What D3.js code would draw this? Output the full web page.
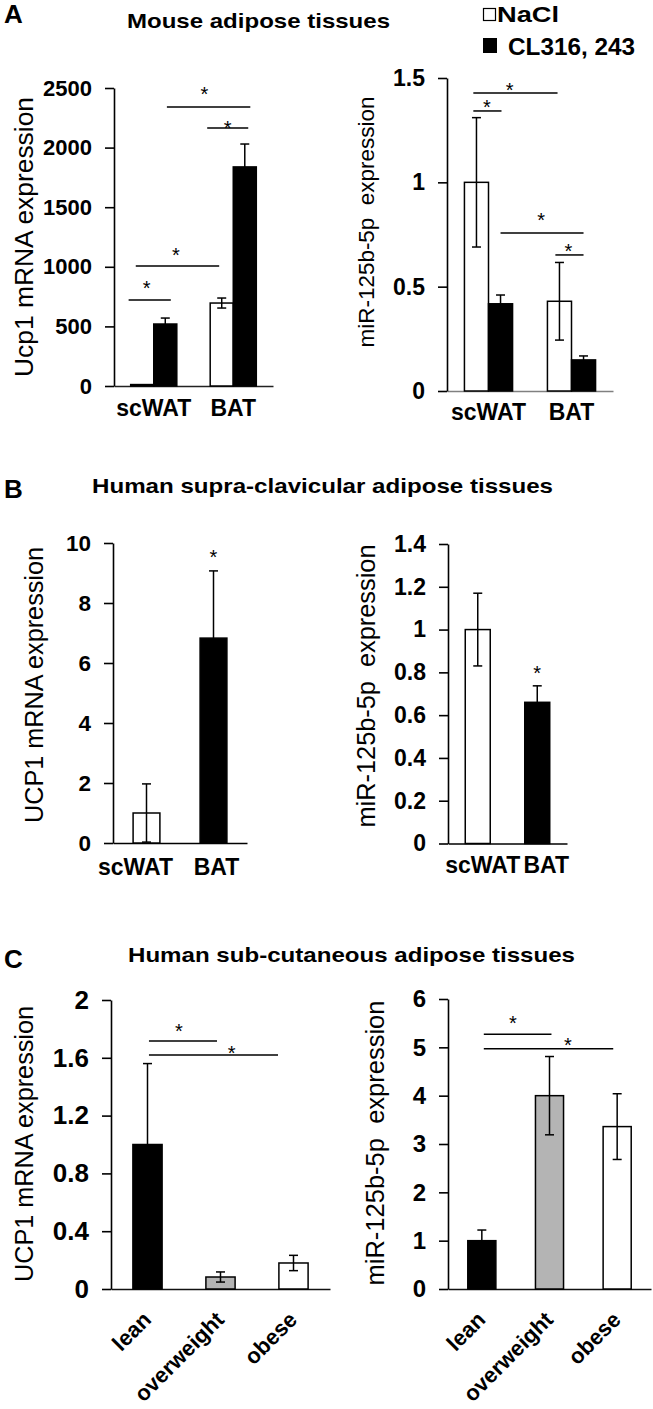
<!DOCTYPE html>
<html>
<head>
<meta charset="utf-8">
<script src="https://cdn.jsdelivr.net/npm/d3@7"></script>
<style>
  body { margin: 0; background: #fff; }
  svg { display: block; }
  svg text { font-family: "Liberation Sans", Arial, sans-serif; fill: #000; }
</style>
</head>
<body>
<div id="container"></div>
<script>
/* DATA */
// A. Mouse adipose tissues (two series per tissue)
const mouseGroups = ["scWAT", "BAT"];
const mouseSeries = ["NaCl", "CL316, 243"];
const mouseUcp1 = [[12, 520], [696, 1838]];
const mouseUcp1Err = [[0, 50], [42, 192]];
const mouseUcp1Ticks = [0, 500, 1000, 1500, 2000, 2500];
const mouseMir = [[1.0, 0.418], [0.43, 0.149]];
const mouseMirErr = [[0.31, 0.042], [0.186, 0.019]];
const mouseMirTicks = [0, 0.5, 1, 1.5];

// B. Human supra-clavicular adipose tissues
const supraGroups = ["scWAT", "BAT"];
const supraUcp1 = [[1.0], [6.83]];
const supraUcp1Err = [[0.97], [2.24]];
const supraUcp1Ticks = [0, 2, 4, 6, 8, 10];
const supraMir = [[1.0], [0.66]];
const supraMirErr = [[0.17], [0.077]];
const supraMirTicks = [0, 0.2, 0.4, 0.6, 0.8, 1, 1.2, 1.4];

// C. Human sub-cutaneous adipose tissues
const subGroups = ["lean", "overweight", "obese"];
const subUcp1 = [[1.0], [0.083], [0.18]];
const subUcp1Err = [[0.56], [0.035], [0.053]];
const subUcp1Ticks = [0, 0.4, 0.8, 1.2, 1.6, 2];
const subMir = [[1.0], [4.0], [3.36]];
const subMirErr = [[0.22], [0.81], [0.68]];
const subMirTicks = [0, 1, 2, 3, 4, 5, 6];

// significance brackets: [group a, series a, frac a, group b, series b, frac b, line value, star value, star position]
const mouseUcp1Sig = [
  ["scWAT", 0, -0.09, "scWAT", 1, 0.74, 721, 864, 0.43],
  ["scWAT", 0, 0.22, "BAT", 0, 0.39, 1007, 1141, 0.48],
  ["BAT", 0, -0.13, "BAT", 1, 0.65, 2164, 2206, 0.5],
  ["scWAT", 1, 0.57, "BAT", 1, 0.74, 2340, 2492, 0.45]
];
const mouseMirSig = [
  ["scWAT", 0, 0.37, "BAT", 0, 0.42, 1.428, 1.466, 0.43],
  ["scWAT", 0, 0.37, "scWAT", 1, 0.54, 1.342, 1.385, 0.48],
  ["scWAT", 1, 0.5, "BAT", 1, 0.5, 0.757, 0.843, 0.49],
  ["BAT", 0, 0.33, "BAT", 1, 0.5, 0.652, 0.695, 0.46]
];
const supraUcp1Star = [["BAT", 9.7]];
const supraMirStar = [["BAT", 0.82]];
const subUcp1Sig = [
  ["lean", 0, 0.55, "overweight", 0, 0.38, 1.716, 1.82, 0.44],
  ["lean", 0, 0.55, "obese", 0, -0.03, 1.62, 1.668, 0.64]
];
const subMirSig = [
  ["lean", 0, 0.57, "overweight", 0, 0.57, 5.27, 5.59, 0.43],
  ["lean", 0, 0.57, "obese", 0, 0.36, 4.97, 5.14, 0.65]
];

/* SVG */
const svg = d3.select("#container").append("svg")
  .attr("width", 653)
  .attr("height", 1409);

const grey = "#b4b4b4";
const starSize = 20;

// font helper: inline style so the sizes always win
const font = (sel, size, bold) => sel
  .style("font-size", size + "px")
  .style("font-weight", bold ? "bold" : "normal");

function drawPanel(p) {
  const yScale = d3.scaleLinear()
    .domain([0, d3.max(p.ticks)])
    .range([p.bottom, p.top]);
  const xScale = d3.scaleBand()
    .domain(p.groups)
    .range([p.left, p.right])
    .paddingInner(p.pad)
    .paddingOuter(p.pad / 2);
  const subScale = d3.scaleBand()
    .domain(d3.range(p.values[0].length))
    .range([0, xScale.bandwidth()]);
  const bw = subScale.bandwidth();
  const barX = (grp, s) => xScale(grp) + subScale(s);

  const bars = [];
  p.groups.forEach((grp, i) => p.values[i].forEach((v, j) => bars.push({
    group: grp, s: j, value: v, err: p.errors[i][j], fill: p.fill(i, j)
  })));

  const g = svg.append("g");

  // x axis
  const xAxis = g.append("g")
    .attr("transform", `translate(0,${p.bottom})`)
    .call(d3.axisBottom(xScale).tickSize(0).tickSizeOuter(0).tickPadding(p.xPad));
  xAxis.attr("font-family", null).attr("font-size", null);
  xAxis.select(".domain").attr("stroke", p.xColor).attr("stroke-width", 1.6);
  xAxis.selectAll("text")
    .call(font, p.xFont, true)
    .attr("dx", (d, i) => p.xShift ? p.xShift[i] : 0);
  if (p.rotate) {
    xAxis.selectAll("text")
      .attr("y", 0).attr("dy", 0)
      .attr("text-anchor", "end")
      .attr("transform", "translate(5,32) rotate(-45)");
  }

  // bars
  g.selectAll("rect.bar")
    .data(bars)
    .join("rect")
    .attr("class", "bar")
    .attr("x", d => barX(d.group, d.s))
    .attr("y", d => yScale(d.value))
    .attr("width", bw)
    .attr("height", d => p.bottom - yScale(d.value))
    .attr("fill", d => d.fill)
    .attr("stroke", "#000")
    .attr("stroke-width", 1.5);

  // error bars
  const eb = g.selectAll("g.err")
    .data(bars.filter(d => d.err > 0))
    .join("g")
    .attr("class", "err")
    .attr("stroke", "#000")
    .attr("stroke-width", 1.5);
  eb.append("line")
    .attr("x1", d => barX(d.group, d.s) + bw / 2)
    .attr("x2", d => barX(d.group, d.s) + bw / 2)
    .attr("y1", d => yScale(d.value - d.err))
    .attr("y2", d => yScale(d.value + d.err));
  [1, -1].forEach(sign => {
    eb.append("line")
      .attr("x1", d => barX(d.group, d.s) + bw / 2 - 4.5)
      .attr("x2", d => barX(d.group, d.s) + bw / 2 + 4.5)
      .attr("y1", d => yScale(d.value + sign * d.err))
      .attr("y2", d => yScale(d.value + sign * d.err));
  });

  // y axis
  const yAxis = g.append("g")
    .attr("transform", `translate(${p.left},0)`)
    .call(d3.axisLeft(yScale).tickValues(p.ticks).tickFormat(d => d)
      .tickSize(9).tickSizeOuter(0).tickPadding(13));
  yAxis.attr("font-family", null).attr("font-size", null);
  yAxis.selectAll("line, path").attr("stroke", "#000").attr("stroke-width", 1.6);
  yAxis.selectAll("text").call(font, p.yFont, true);

  // y label
  g.append("text")
    .attr("transform", `translate(${p.labelX},${p.labelY}) rotate(-90)`)
    .attr("text-anchor", "middle")
    .call(font, p.labelFont, false)
    .attr("textLength", p.labelLen)
    .attr("lengthAdjust", "spacingAndGlyphs")
    .style("white-space", "pre")
    .text(p.label);

  // significance brackets
  const sx1 = d => barX(d[0], d[1]) + d[2] * bw;
  const sx2 = d => barX(d[3], d[4]) + d[5] * bw;
  g.selectAll("line.sig")
    .data(p.sig || [])
    .join("line")
    .attr("class", "sig")
    .attr("x1", sx1).attr("x2", sx2)
    .attr("y1", d => yScale(d[6])).attr("y2", d => yScale(d[6]))
    .attr("stroke", "#000")
    .attr("stroke-width", 1.5);
  g.selectAll("text.sigstar")
    .data(p.sig || [])
    .join("text")
    .attr("class", "sigstar")
    .attr("x", d => sx1(d) + (sx2(d) - sx1(d)) * d[8])
    .attr("y", d => yScale(d[7]) + starSize * 0.58)
    .attr("text-anchor", "middle")
    .call(font, starSize, false)
    .text("*");
  g.selectAll("text.star")
    .data(p.stars || [])
    .join("text")
    .attr("class", "star")
    .attr("x", d => barX(d[0], 0) + bw / 2)
    .attr("y", d => yScale(d[1]) + starSize * 0.58)
    .attr("text-anchor", "middle")
    .call(font, starSize, false)
    .text("*");
}

const seriesFill = ["#fff", "#000"];
const supraFill = ["#fff", "#000"];
const subFill = ["#000", grey, "#fff"];

// PANEL A
drawPanel({
  groups: mouseGroups, values: mouseUcp1, errors: mouseUcp1Err, ticks: mouseUcp1Ticks,
  fill: (i, j) => seriesFill[j], sig: mouseUcp1Sig,
  left: 114, right: 273, top: 88, bottom: 386, pad: 0.42, xColor: "#222",
  xPad: 14, xFont: 23, yFont: 22,
  label: "Ucp1 mRNA expression", labelX: 33, labelY: 237, labelLen: 280, labelFont: 26
});
drawPanel({
  groups: mouseGroups, values: mouseMir, errors: mouseMirErr, ticks: mouseMirTicks,
  fill: (i, j) => seriesFill[j], sig: mouseMirSig,
  left: 447, right: 613, top: 78, bottom: 391, pad: 0.42, xColor: "#808080",
  xPad: 12.5, xFont: 23, yFont: 23,
  label: "miR-125b-5p  expression", labelX: 374, labelY: 222, labelLen: 251, labelFont: 22.5
});

// PANEL B
drawPanel({
  groups: supraGroups, values: supraUcp1, errors: supraUcp1Err, ticks: supraUcp1Ticks,
  fill: i => supraFill[i], stars: supraUcp1Star, xShift: [-11, 3],
  left: 113, right: 247, top: 543, bottom: 843, pad: 0.6, xColor: "#000",
  xPad: 15.5, xFont: 23, yFont: 22.5,
  label: "UCP1 mRNA expression", labelX: 43, labelY: 685, labelLen: 276, labelFont: 25
});
drawPanel({
  groups: supraGroups, values: supraMir, errors: supraMirErr, ticks: supraMirTicks,
  fill: i => supraFill[i], stars: supraMirStar, xShift: [5, 9],
  left: 448, right: 567, top: 544, bottom: 843.5, pad: 0.58, xColor: "#000",
  xPad: 13, xFont: 23, yFont: 23,
  label: "miR-125b-5p  expression", labelX: 375, labelY: 686, labelLen: 283, labelFont: 25
});

// PANEL C
drawPanel({
  groups: subGroups, values: subUcp1, errors: subUcp1Err, ticks: subUcp1Ticks,
  fill: i => subFill[i], sig: subUcp1Sig, rotate: true,
  left: 111, right: 330, top: 1000, bottom: 1289, pad: 0.6, xColor: "#111",
  xPad: 0, xFont: 22, yFont: 26,
  label: "UCP1 mRNA expression", labelX: 33, labelY: 1144, labelLen: 276, labelFont: 25
});
drawPanel({
  groups: subGroups, values: subMir, errors: subMirErr, ticks: subMirTicks,
  fill: i => subFill[i], sig: subMirSig, rotate: true,
  left: 448, right: 651, top: 999, bottom: 1289, pad: 0.585, xColor: "#111",
  xPad: 0, xFont: 22, yFont: 24,
  label: "miR-125b-5p  expression", labelX: 384, labelY: 1143, labelLen: 285, labelFont: 25
});

/* PANEL LETTERS AND TITLES */
const headings = [
  {letter: "A", ly: 23, title: "Mouse adipose tissues", tx: 127, ty: 28, len: 263},
  {letter: "B", ly: 498, title: "Human supra-clavicular adipose tissues", tx: 92, ty: 493, len: 461},
  {letter: "C", ly: 968, title: "Human sub-cutaneous adipose tissues", tx: 128, ty: 962, len: 447}
];
svg.selectAll("text.letter")
  .data(headings)
  .join("text")
  .attr("class", "letter")
  .attr("x", 4)
  .attr("y", d => d.ly)
  .call(font, 26, true)
  .text(d => d.letter);
svg.selectAll("text.title")
  .data(headings)
  .join("text")
  .attr("class", "title")
  .attr("x", d => d.tx)
  .attr("y", d => d.ty)
  .call(font, 21, true)
  .attr("textLength", d => d.len)
  .attr("lengthAdjust", "spacingAndGlyphs")
  .text(d => d.title);

/* LEGEND */
const legend = svg.append("g");
legend.append("rect").attr("x", 483.5).attr("y", 8.5).attr("width", 12).attr("height", 12)
  .attr("fill", seriesFill[0]).attr("stroke", "#000").attr("stroke-width", 1.2);
legend.append("rect").attr("x", 483).attr("y", 38).attr("width", 14).attr("height", 15)
  .attr("fill", seriesFill[1]);
legend.append("text").attr("x", 497).attr("y", 22).call(font, 22, true)
  .attr("textLength", 62).attr("lengthAdjust", "spacingAndGlyphs").text(mouseSeries[0]);
legend.append("text").attr("x", 508).attr("y", 55).call(font, 23, true)
  .attr("textLength", 127).attr("lengthAdjust", "spacingAndGlyphs").text(mouseSeries[1]);
</script>
</body>
</html>
